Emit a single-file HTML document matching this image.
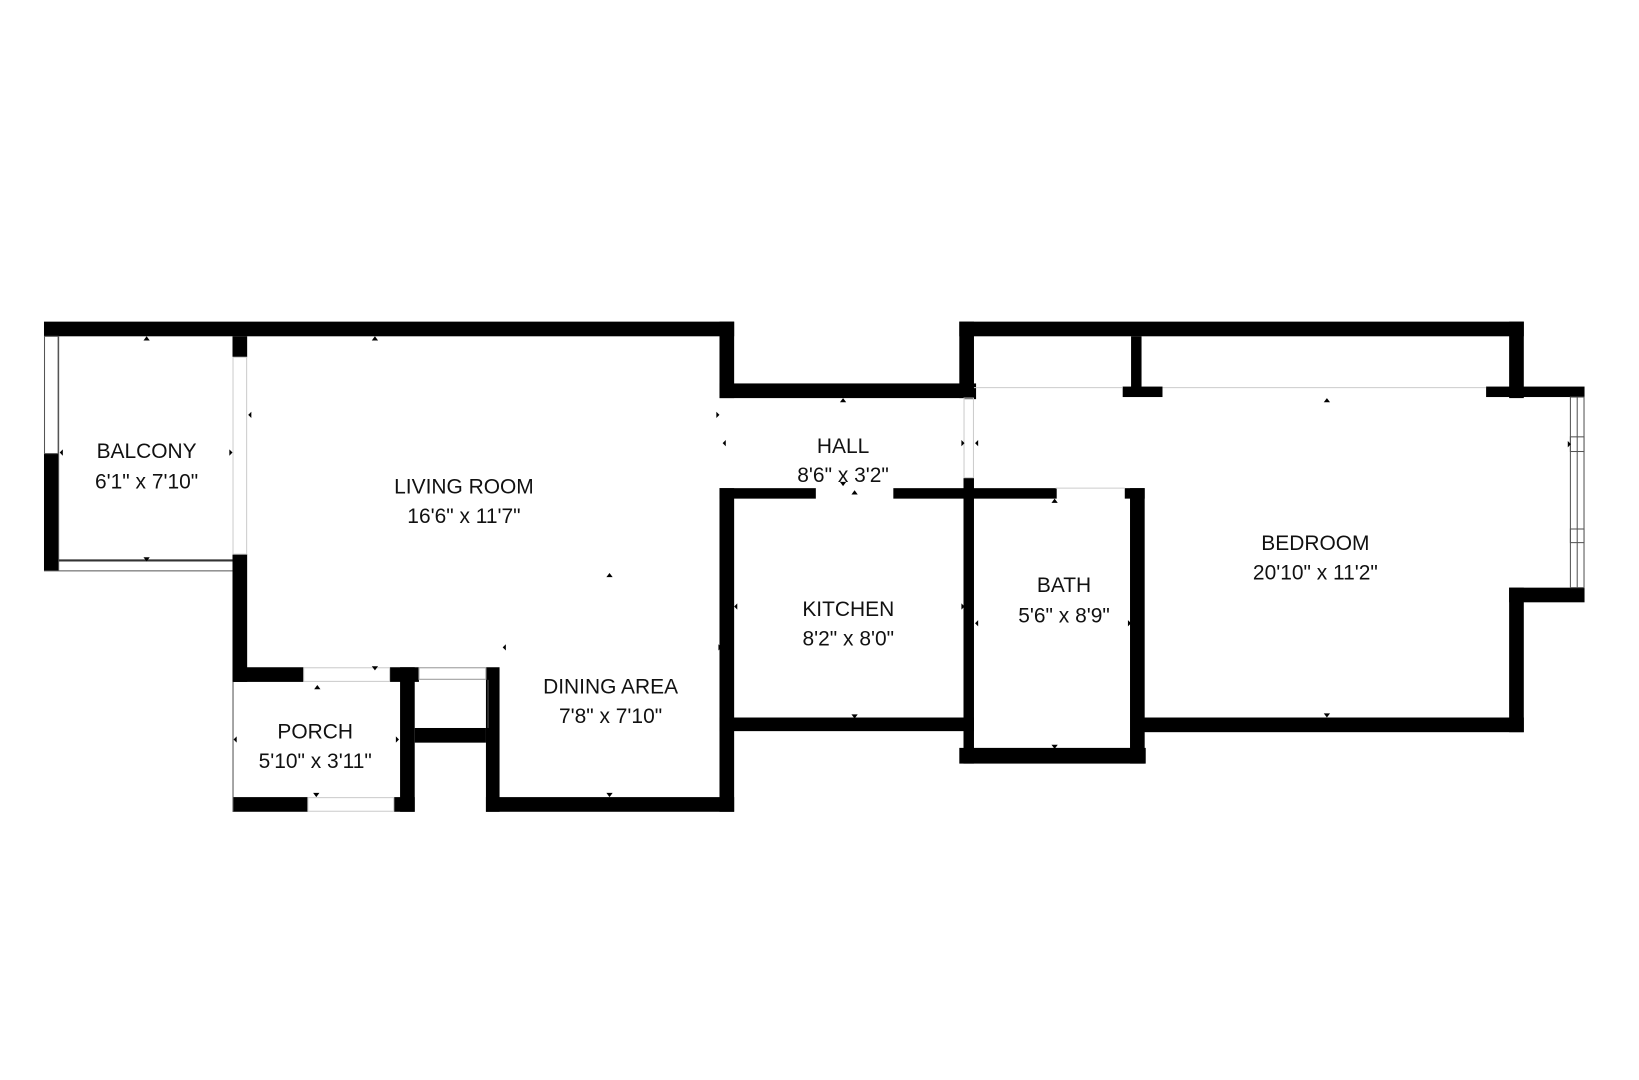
<!DOCTYPE html>
<html><head><meta charset="utf-8"><style>
html,body{margin:0;padding:0;background:#fff;}
svg{display:block;}
text{font-family:"Liberation Sans",sans-serif;font-size:20px;fill:#111;text-anchor:middle;dominant-baseline:middle;}
</style></head><body>
<svg width="1639" height="1080" viewBox="0 0 1565 1031" xmlns="http://www.w3.org/2000/svg">
<rect width="1565" height="1031" fill="#fff"/>
<g fill="#000">
<rect x="42" y="307" width="659" height="14"/>
<rect x="42" y="433" width="14" height="112"/>
<rect x="222" y="321" width="14" height="20"/>
<rect x="222" y="529" width="14" height="122"/>
<rect x="687" y="307" width="14" height="73"/>
<rect x="687" y="366" width="243" height="14"/>
<rect x="687" y="466" width="14" height="309"/>
<rect x="687" y="466" width="92" height="10"/>
<rect x="853" y="466" width="156" height="10"/>
<rect x="1074" y="466" width="19" height="10"/>
<rect x="687" y="685" width="243" height="13"/>
<rect x="920" y="366" width="12" height="15"/>
<rect x="920" y="456" width="10" height="273"/>
<rect x="1079" y="466" width="14" height="263"/>
<rect x="916" y="714" width="178" height="15"/>
<rect x="916" y="307" width="539" height="14"/>
<rect x="916" y="307" width="14" height="73"/>
<rect x="1441" y="307" width="14" height="73"/>
<rect x="1080" y="321" width="10" height="57"/>
<rect x="1072" y="369" width="38" height="10"/>
<rect x="1419" y="369" width="94" height="10"/>
<rect x="1441" y="561" width="72" height="14"/>
<rect x="1441" y="561" width="14" height="138"/>
<rect x="1090" y="685" width="365" height="14"/>
<rect x="222" y="637" width="68" height="14"/>
<rect x="372" y="637" width="28" height="14"/>
<rect x="382" y="637" width="14" height="138"/>
<rect x="464" y="637" width="13" height="138"/>
<rect x="396" y="695" width="68" height="14"/>
<rect x="222" y="761" width="72" height="14"/>
<rect x="376" y="761" width="20" height="14"/>
<rect x="464" y="761" width="237" height="14"/>
</g>
<g fill="none" stroke="#555" stroke-width="1">
<rect x="42.5" y="321" width="13" height="112"/>
<line x1="56" y1="321" x2="56" y2="545"/>
<line x1="56" y1="535" x2="222" y2="535" stroke-width="2" stroke="#333"/>
<line x1="42" y1="545" x2="222" y2="545"/>
<rect x="222.5" y="341" width="13" height="188" stroke="#ccc"/>
<rect x="920.5" y="380" width="9" height="76" stroke="#ccc"/>
<line x1="930" y1="370" x2="1072" y2="370" stroke="#ccc"/>
<line x1="1110" y1="370" x2="1419" y2="370" stroke="#ccc"/>
<line x1="1008" y1="466" x2="1074" y2="466" stroke="#ccc"/>
<rect x="1499.5" y="379" width="13" height="182"/>
<line x1="1506" y1="379" x2="1506" y2="561"/>
<rect x="1499.5" y="417" width="13" height="14"/>
<rect x="1499.5" y="505" width="13" height="13"/>
<line x1="222.5" y1="651" x2="222.5" y2="775"/>
<rect x="294" y="761.5" width="82" height="13" stroke="#ccc"/>
<rect x="290" y="637.5" width="82" height="13" stroke="#ccc"/>
<rect x="400" y="637.5" width="64" height="11" stroke="#999"/>
<line x1="466" y1="649" x2="466" y2="695"/>
</g>
<g fill="#000">
<polygon points="137,325 143,325 140,321"/>
<polygon points="355,325 361,325 358,321"/>
<polygon points="137,532 143,532 140,536"/>
<polygon points="60,429 60,435 57,432"/>
<polygon points="219,429 219,435 222,432"/>
<polygon points="240,393 240,399 237,396"/>
<polygon points="684,393 684,399 687,396"/>
<polygon points="693,420 693,426 690,423"/>
<polygon points="802,384 808,384 805,380"/>
<polygon points="918,420 918,426 921,423"/>
<polygon points="934,420 934,426 931,423"/>
<polygon points="579,551 585,551 582,547"/>
<polygon points="483,615 483,621 480,618"/>
<polygon points="686,615 686,621 689,618"/>
<polygon points="355,636 361,636 358,640"/>
<polygon points="300,658 306,658 303,654"/>
<polygon points="579,757 585,757 582,761"/>
<polygon points="299,757 305,757 302,761"/>
<polygon points="226,703 226,709 223,706"/>
<polygon points="378,703 378,709 381,706"/>
<polygon points="813,472 819,472 816,468"/>
<polygon points="802,460 808,460 805,464"/>
<polygon points="704,576 704,582 701,579"/>
<polygon points="918,576 918,582 921,579"/>
<polygon points="813,682 819,682 816,686"/>
<polygon points="934,592 934,598 931,595"/>
<polygon points="1077,592 1077,598 1080,595"/>
<polygon points="1004,480 1010,480 1007,476"/>
<polygon points="1004,711 1010,711 1007,715"/>
<polygon points="1264,384 1270,384 1267,380"/>
<polygon points="1264,681 1270,681 1267,685"/>
<polygon points="1497,421 1497,427 1500,424"/>
</g>
<text x="140" y="432">BALCONY</text>
<text x="140" y="461">6'1" x 7'10"</text>
<text x="443" y="466">LIVING ROOM</text>
<text x="443" y="494">16'6" x 11'7"</text>
<text x="805" y="427">HALL</text>
<text x="805" y="455">8'6" x 3'2"</text>
<text x="810" y="583">KITCHEN</text>
<text x="810" y="611">8'2" x 8'0"</text>
<text x="1016" y="560">BATH</text>
<text x="1016" y="589">5'6" x 8'9"</text>
<text x="1256" y="520">BEDROOM</text>
<text x="1256" y="548">20'10" x 11'2"</text>
<text x="301" y="700">PORCH</text>
<text x="301" y="728">5'10" x 3'11"</text>
<text x="583" y="657">DINING AREA</text>
<text x="583" y="685">7'8" x 7'10"</text>
</svg>
</body></html>
